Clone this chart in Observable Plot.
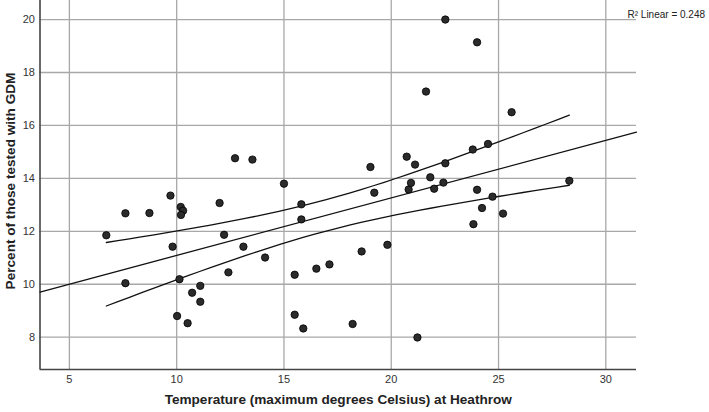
<!DOCTYPE html>
<html>
<head>
<meta charset="utf-8">
<script src="https://cdn.jsdelivr.net/npm/d3@7"></script>
<script src="https://cdn.jsdelivr.net/npm/@observablehq/plot@0.6"></script>
<style>
  html, body { margin: 0; padding: 0; background: #fff; }
  #chart svg { display: block; }
</style>
</head>
<body>
<div id="chart"></div>
<script>
// Temperature (max °C at Heathrow)
const temperature = [
  6.72, 7.61, 7.61, 8.73, 9.71, 9.81, 10.02, 10.13, 10.19, 10.30,
  10.20, 10.51, 10.72, 11.10, 11.10, 12.00, 12.21, 12.41, 12.72, 13.11,
  13.53, 14.12, 15.00, 15.50, 15.50, 15.81, 15.81, 15.90, 16.51, 17.12,
  18.20, 18.62, 19.03, 19.21, 19.82, 20.72, 20.81, 20.92, 21.11, 21.22,
  21.62, 21.82, 22.00, 22.43, 22.52, 22.52, 23.80, 23.83, 24.00, 24.00,
  24.23, 24.51, 24.72, 25.21, 25.61, 28.30
];
// Percent of those tested with GDM
const gdmPercent = [
  11.85, 12.68, 10.04, 12.69, 13.35, 11.42, 8.80, 10.19, 12.92, 12.78,
  12.62, 8.53, 9.68, 9.94, 9.34, 13.07, 11.87, 10.45, 14.76, 11.42,
  14.71, 11.01, 13.80, 10.36, 8.85, 13.02, 12.45, 8.33, 10.59, 10.75,
  8.50, 11.24, 14.43, 13.46, 11.49, 14.82, 13.58, 13.83, 14.52, 7.99,
  17.28, 14.04, 13.61, 13.84, 14.57, 20.00, 15.09, 12.27, 19.14, 13.57,
  12.88, 15.30, 13.31, 12.67, 16.50, 13.91
];
const xTicks = [5, 10, 15, 20, 25, 30];
const yTicks = [8, 10, 12, 14, 16, 18, 20];
const xDomain = [3.63, 31.43];
const yDomain = [6.78, 20.72];
const r2Label = "R² Linear = 0.248";
const xLabel = "Temperature (maximum degrees Celsius) at Heathrow";
const yLabel = "Percent of those tested with GDM";

const points = temperature.map((t, i) => ({x: t, y: gdmPercent[i]}));

// Least-squares fit and 95% mean confidence interval, computed from the data
const n = points.length;
const mx = d3.mean(points, d => d.x), my = d3.mean(points, d => d.y);
const sxx = d3.sum(points, d => (d.x - mx) ** 2);
const sxy = d3.sum(points, d => (d.x - mx) * (d.y - my));
const slope = sxy / sxx, intercept = my - slope * mx;
const sse = d3.sum(points, d => (d.y - (intercept + slope * d.x)) ** 2);
const s = Math.sqrt(sse / (n - 2));
const tCrit = 2.005;
const fitLine = xDomain.map(x => ({x, y: intercept + slope * x}));
const [xmin, xmax] = d3.extent(temperature);
const ciX = d3.range(0, 41).map(i => xmin + (xmax - xmin) * i / 40);
const ciUpper = ciX.map(x => ({x, y: intercept + slope * x + tCrit * s * Math.sqrt(1 / n + (x - mx) ** 2 / sxx)}));
const ciLower = ciX.map(x => ({x, y: intercept + slope * x - tCrit * s * Math.sqrt(1 / n + (x - mx) ** 2 / sxx)}));

const chart = Plot.plot({
  width: 709,
  height: 412,
  marginLeft: 39.5,
  marginRight: 73,
  marginTop: 0,
  marginBottom: 43,
  style: {fontFamily: "Liberation Sans, Arial, sans-serif", background: "#fff"},
  x: {domain: xDomain, ticks: xTicks, label: null},
  y: {domain: yDomain, ticks: yTicks, label: null},
  marks: [
    Plot.gridX(xTicks, {stroke: "#a8a8a8", strokeOpacity: 1, strokeWidth: 1.3}),
    Plot.gridY(yTicks, {stroke: "#a8a8a8", strokeOpacity: 1, strokeWidth: 1.3}),
    Plot.axisX(xTicks, {tickSize: 0, tickPadding: 6, fontSize: 11, fill: "#333", label: null}),
    Plot.axisY(yTicks, {tickSize: 0, tickPadding: 5, fontSize: 11, fill: "#333", label: null}),
    Plot.ruleX([xDomain[0]], {stroke: "#444", strokeWidth: 1.6}),
    Plot.ruleY([yDomain[0]], {stroke: "#444", strokeWidth: 1.6}),
    Plot.line(fitLine, {x: "x", y: "y", stroke: "#111", strokeWidth: 1.3}),
    Plot.line(ciUpper, {x: "x", y: "y", stroke: "#111", strokeWidth: 1.3}),
    Plot.line(ciLower, {x: "x", y: "y", stroke: "#111", strokeWidth: 1.3}),
    Plot.dot(points, {x: "x", y: "y", r: 3.7, fill: "#2b2b2b", stroke: "#000", strokeWidth: 0.8}),
    Plot.text([r2Label], {frameAnchor: "top-right", dx: -9, dy: 10, textAnchor: "start", fontSize: 10, fill: "#222"}),
    Plot.text([xLabel], {frameAnchor: "bottom", dy: 34, fontSize: 13.6, fontWeight: "bold", fill: "#222"}),
    Plot.text([yLabel], {frameAnchor: "left", rotate: -90, textAnchor: "middle", dx: -29, dy: -4, fontSize: 13.6, fontWeight: "bold", fill: "#222"})
  ]
});
document.getElementById("chart").appendChild(chart);
</script>
</body>
</html>
